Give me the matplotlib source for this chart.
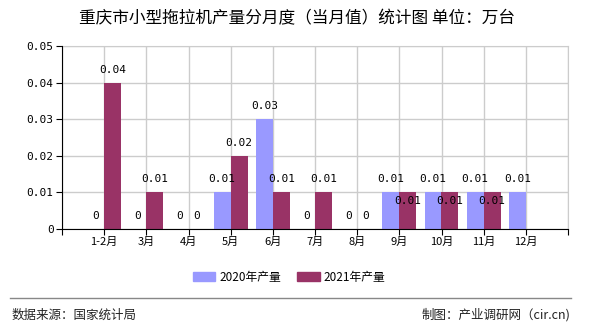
import numpy as np
import matplotlib
matplotlib.use("Agg")
import matplotlib.pyplot as plt
from matplotlib.patches import Patch
from matplotlib.lines import Line2D

plt.rcParams['font.family'] = ['Noto Sans CJK SC', 'DejaVu Sans']

# ==============================================================================
# DATA
# ==============================================================================
months = ["1-2月", "3月", "4月", "5月", "6月", "7月", "8月", "9月", "10月", "11月", "12月"]
y2020  = [0, 0, 0, 0.01, 0.03, 0, 0, 0.01, 0.01, 0.01, 0.01]
y2021  = [0.04, 0.01, 0, 0.02, 0.01, 0.01, 0, 0.01, 0.01, 0.01, None]
yticks = [0, 0.01, 0.02, 0.03, 0.04, 0.05]

c2020 = "#9999ff"
c2021 = "#993366"
lowered_2021 = {"9月", "10月", "11月"}   # labels pushed into the bar
mono = "DejaVu Sans Mono"

# ==============================================================================
# FIGURE
# ==============================================================================
fig = plt.figure(figsize=(5.9, 3.3), dpi=100)
ax = fig.add_axes([62 / 590, 1 - 229 / 330, 506 / 590, 183 / 330])

x = np.arange(len(months))
w = 0.4
v20 = np.array(y2020, dtype=float)
v21 = np.array([np.nan if v is None else v for v in y2021])

ax.bar(x - w / 2, v20, width=w, color=c2020, zorder=3)
ax.bar(x + w / 2, np.nan_to_num(v21), width=w, color=c2021, zorder=3)

def label(xp, v, dy):
    ax.annotate(f"{v:g}", (xp, v), xytext=(0, dy), textcoords="offset points",
                ha="center", va="center", fontsize=8, family=mono, zorder=4)

for i, m in enumerate(months):
    label(x[i] - w / 2, v20[i], 9.4)
    if not np.isnan(v21[i]):
        label(x[i] + w / 2, v21[i], -6.5 if m in lowered_2021 else 9.4)

ax.set_xlim(-1, len(months))
ax.set_ylim(0, 0.05)
ticks = np.arange(-1, len(months) + 1)
ax.set_xticks(ticks)
ax.set_xticklabels([""] + months + [""], fontsize=8)
ax.set_yticks(yticks)
ax.set_yticklabels([f"{t:g}" for t in yticks], family=mono, fontsize=8)
ax.tick_params(axis="both", direction="out", length=4, color="black", pad=2)
ax.grid(True, color="#cccccc", lw=1, zorder=0)
for s in ["top", "right"]:
    ax.spines[s].set_color("#cccccc")
for s in ["left", "bottom"]:
    ax.spines[s].set_color("black")
    ax.spines[s].set_zorder(5)

fig.text(0.504, 1 - 19 / 330, "重庆市小型拖拉机产量分月度（当月值）统计图 单位：万台",
         ha="center", va="center", fontsize=12)

handles = [Patch(color=c2020, label="2020年产量"), Patch(color=c2021, label="2021年产量")]
fig.legend(handles=handles, loc="center", bbox_to_anchor=(0.49, 1 - 277 / 330), ncol=2,
           frameon=False, fontsize=8.5, handlelength=1.9, handleheight=0.9,
           handletextpad=0.35, columnspacing=1.4)

fig.add_artist(Line2D([10 / 590, 571 / 590], [1 - 298 / 330] * 2,
                      color="#888888", lw=1, transform=fig.transFigure))
fig.text(12 / 590, 1 - 315 / 330, "数据来源：国家统计局", ha="left", va="center",
         fontsize=9, color="#222222")
fig.text(570 / 590, 1 - 315 / 330, "制图：产业调研网（cir.cn)", ha="right", va="center",
         fontsize=9, color="#222222")

fig.savefig("out.png", dpi=100)
